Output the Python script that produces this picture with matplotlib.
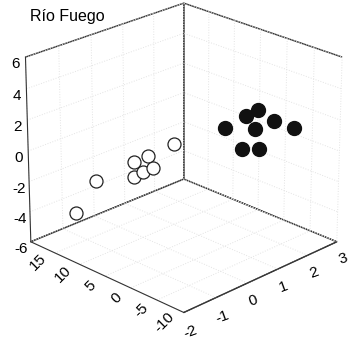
import matplotlib
matplotlib.use("Agg")
import matplotlib.pyplot as plt

# axis ranges / ticks
b_ticks = [-2, -1, 0, 1, 2, 3]
a_ticks = [-10, -5, 0, 5, 10, 15]
z_ticks = [-6, -4, -2, 0, 2, 4, 6]

# open circles (x=B, y=A, z)
open_b = [0.35, -0.07, -0.30, -0.24, -0.40, -0.55, -0.92, -1.25]
open_a = [5.9, 8.4, 9.8, 6.4, 7.4, 8.3, 13.5, 15.5]
open_z = [0.45, -0.33, -0.71, -0.70, -0.97, -1.30, -1.93, -4.05]

# filled circles
fill_b = [1.69, 1.50, 1.16, 1.65, 1.95, 2.27, 1.44, 1.71]
fill_a = [-2.15, -0.98, 1.1, -1.85, -3.6, -5.6, -0.6, -2.2]
fill_z = [2.65, 2.25, 1.50, 1.42, 1.90, 1.50, 0.14, 0.14]

plt.rcParams.update({
    "font.family": ["Liberation Sans", "DejaVu Sans"],
    "font.size": 11,
    "axes.unicode_minus": False,
    "grid.color": "#e3e3e3",
    "grid.linestyle": ":",
    "grid.linewidth": 0.7,
})

fig = plt.figure(figsize=(3.54, 3.46), dpi=100)
ax = fig.add_axes([0.006, 0.050, 1.0, 1.0], projection="3d")
ax.view_init(elev=23.5, azim=-135)
ax.set_proj_type("persp", focal_length=1.25)
ax.set_box_aspect((1, 1, 0.915), zoom=1.04)

ax.scatter(open_b, open_a, open_z, s=88, facecolors="white", edgecolors="#222222",
           linewidths=0.9, depthshade=False)
ax.scatter(fill_b, fill_a, fill_z, s=100, color="#111111", depthshade=False)

ax.set_xlim(-2, 3)
ax.set_ylim(-10, 20)
ax.set_zlim(-6, 6)
ax.set_xticks(b_ticks)
ax.set_yticks(a_ticks)
ax.set_zticks(z_ticks)

for axis in (ax.xaxis, ax.yaxis, ax.zaxis):
    axis.set_pane_color((1, 1, 1, 1))
    axis.pane.set_edgecolor("#333333")
    axis.pane.set_linewidth(1.0)
    axis.line.set_color("#333333")
    axis._axinfo["tick"]["inward_factor"] = 0
    axis._axinfo["tick"]["outward_factor"] = 0

ax.tick_params(axis="y", labelrotation=45, pad=-3)
ax.tick_params(axis="x", labelrotation=20, pad=-3)
ax.tick_params(axis="z", pad=-4)
for t in ax.get_yticklabels():
    t.set_ha("right")
    t.set_va("center")

fig.text(0.085, 0.952, "Río Fuego", fontsize=11.5, ha="left", va="center")

fig.savefig("out.png", dpi=100)
